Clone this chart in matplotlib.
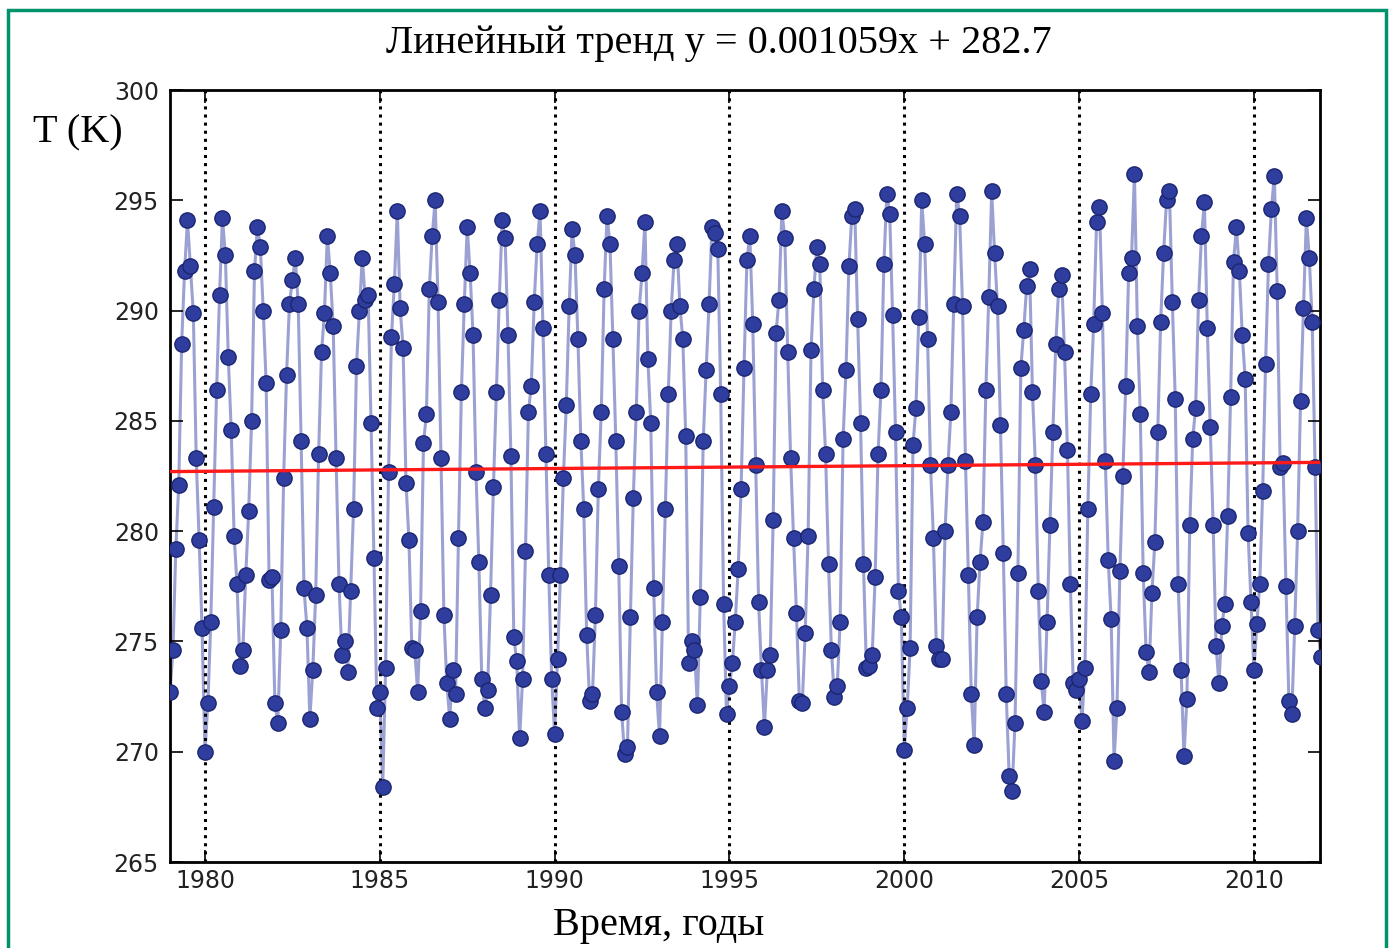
import numpy as np
import matplotlib
matplotlib.use("Agg")
from matplotlib import pyplot as plt
from matplotlib.patches import Rectangle

# monthly mean temperature, K (one row per year, Jan..Dec), starting 1979
start_year = 1979
temp_k = [
    272.7, 274.6, 279.2, 282.1, 288.5, 291.8, 294.1, 292.0, 289.9, 283.3, 279.6, 275.6,  # 1979
    270.0, 272.2, 275.9, 281.1, 286.4, 290.7, 294.2, 292.5, 287.9, 284.6, 279.8, 277.6,  # 1980
    273.9, 274.6, 278.0, 280.9, 285.0, 291.8, 293.8, 292.9, 290.0, 286.7, 277.8, 277.9,  # 1981
    272.2, 271.3, 275.5, 282.4, 287.1, 290.3, 291.4, 292.4, 290.3, 284.1, 277.4, 275.6,  # 1982
    271.5, 273.7, 277.1, 283.5, 288.1, 289.9, 293.4, 291.7, 289.3, 283.3, 277.6, 274.4,  # 1983
    275.0, 273.6, 277.3, 281.0, 287.5, 290.0, 292.4, 290.5, 290.7, 284.9, 278.8, 272.0,  # 1984
    272.7, 268.4, 273.8, 282.7, 288.8, 291.2, 294.5, 290.1, 288.3, 282.2, 279.6, 274.7,  # 1985
    274.6, 272.7, 276.4, 284.0, 285.3, 291.0, 293.4, 295.0, 290.4, 283.3, 276.2, 273.1,  # 1986
    271.5, 273.7, 272.6, 279.7, 286.3, 290.3, 293.8, 291.7, 288.9, 282.7, 278.6, 273.3,  # 1987
    272.0, 272.8, 277.1, 282.0, 286.3, 290.5, 294.1, 293.3, 288.9, 283.4, 275.2, 274.1,  # 1988
    270.6, 273.3, 279.1, 285.4, 286.6, 290.4, 293.0, 294.5, 289.2, 283.5, 278.0, 273.3,  # 1989
    270.8, 274.2, 278.0, 282.4, 285.7, 290.2, 293.7, 292.5, 288.7, 284.1, 281.0, 275.3,  # 1990
    272.3, 272.6, 276.2, 281.9, 285.4, 291.0, 294.3, 293.0, 288.7, 284.1, 278.4, 271.8,  # 1991
    269.9, 270.2, 276.1, 281.5, 285.4, 290.0, 291.7, 294.0, 287.8, 284.9, 277.4, 272.7,  # 1992
    270.7, 275.9, 281.0, 286.2, 290.0, 292.3, 293.0, 290.2, 288.7, 284.3, 274.0, 275.0,  # 1993
    274.6, 272.1, 277.0, 284.1, 287.3, 290.3, 293.8, 293.5, 292.8, 286.2, 276.7, 271.7,  # 1994
    273.0, 274.0, 275.9, 278.3, 281.9, 287.4, 292.3, 293.4, 289.4, 283.0, 276.8, 273.7,  # 1995
    271.1, 273.7, 274.4, 280.5, 289.0, 290.5, 294.5, 293.3, 288.1, 283.3, 279.7, 276.3,  # 1996
    272.3, 272.2, 275.4, 279.8, 288.2, 291.0, 292.9, 292.1, 286.4, 283.5, 278.5, 274.6,  # 1997
    272.5, 273.0, 275.9, 284.2, 287.3, 292.0, 294.3, 294.6, 289.6, 284.9, 278.5, 273.8,  # 1998
    273.9, 274.4, 277.9, 283.5, 286.4, 292.1, 295.3, 294.4, 289.8, 284.5, 277.3, 276.1,  # 1999
    270.1, 272.0, 274.7, 283.9, 285.6, 289.7, 295.0, 293.0, 288.7, 283.0, 279.7, 274.8,  # 2000
    274.2, 274.2, 280.0, 283.0, 285.4, 290.3, 295.3, 294.3, 290.2, 283.2, 278.0, 272.6,  # 2001
    270.3, 276.1, 278.6, 280.4, 286.4, 290.6, 295.4, 292.6, 290.2, 284.8, 279.0, 272.6,  # 2002
    268.9, 268.2, 271.3, 278.1, 287.4, 289.1, 291.1, 291.9, 286.3, 283.0, 277.3, 273.2,  # 2003
    271.8, 275.9, 280.3, 284.5, 288.5, 291.0, 291.6, 288.1, 283.7, 277.6, 273.1, 272.8,  # 2004
    273.3, 271.4, 273.8, 281.0, 286.2, 289.4, 294.0, 294.7, 289.9, 283.2, 278.7, 276.0,  # 2005
    269.6, 272.0, 278.2, 282.5, 286.6, 291.7, 292.4, 296.2, 289.3, 285.3, 278.1, 274.5,  # 2006
    273.6, 277.2, 279.5, 284.5, 289.5, 292.6, 295.0, 295.4, 290.4, 286.0, 277.6, 273.7,  # 2007
    269.8, 272.4, 280.3, 284.2, 285.6, 290.5, 293.4, 294.9, 289.2, 284.7, 280.3, 274.8,  # 2008
    273.1, 275.7, 276.7, 280.7, 286.1, 292.2, 293.8, 291.8, 288.9, 286.9, 279.9, 276.8,  # 2009
    273.7, 275.8, 277.6, 281.8, 287.6, 292.1, 294.6, 296.1, 290.9, 282.9, 283.1, 277.5,  # 2010
    272.3, 271.7, 275.7, 280.0, 285.9, 290.1, 294.2, 292.4, 289.5, 282.9, 275.5, 274.3,  # 2011
]

# linear fit over the month index
trend_slope = 0.001059
trend_intercept = 282.7

year_ticks = [1980, 1985, 1990, 1995, 2000, 2005, 2010]
temp_ticks = [265, 270, 275, 280, 285, 290, 295, 300]

serif = ["Liberation Serif", "DejaVu Serif"]

months = np.arange(len(temp_k))
t = start_year + months / 12.0
trend = trend_slope * months + trend_intercept

fig = plt.figure(figsize=(13.92, 9.48), dpi=100)
fig.patch.set_facecolor("white")

# green frame round the figure
fig.patches.append(Rectangle((8 / 1392, -0.05), 1378 / 1392, 1.05 - 10 / 948,
                             transform=fig.transFigure, fill=False,
                             edgecolor="#00936b", linewidth=2.5))

ax = fig.add_axes([170 / 1392, 86 / 948, 1150 / 1392, 772 / 948])

ax.plot(t, temp_k, "-", color="#3a45a8", alpha=0.5, linewidth=2.2, zorder=2)
ax.plot(t, temp_k, "o", markersize=11, markerfacecolor="#2f3e9e",
        markeredgecolor="#1b2570", markeredgewidth=1.0, zorder=3)
ax.plot(t, trend, "-", color="#ff1a1a", linewidth=2.4, zorder=4)

ax.set_xlim(1979.0, 2011.89)
ax.set_ylim(265, 300)
ax.set_xticks(year_ticks)
ax.set_yticks(temp_ticks)

ax.xaxis.grid(True, linestyle=":", color="black", linewidth=2.2)
ax.set_axisbelow(False)
ax.yaxis.grid(False)

ax.tick_params(direction="in", length=9, width=1.2, top=True, right=True,
               labelsize=17, labelcolor="#222222")
ax.tick_params(axis="y", pad=8)
ax.tick_params(axis="x", pad=5)
for lab in ax.get_xticklabels() + ax.get_yticklabels():
    lab.set_family("DejaVu Sans")

for sp in ax.spines.values():
    sp.set_linewidth(2.0)
    sp.set_color("black")

fig.text(719 / 1392, 1 - 43 / 948,
         f"Линейный тренд y = {trend_slope:.6f}x + {trend_intercept:.1f}",
         ha="center", va="center", fontsize=29, family=serif)
fig.text(33 / 1392, 1 - 133 / 948, "T (K)", ha="left", va="center",
         fontsize=29, family=serif)
fig.text(659 / 1392, 1 - 925 / 948, "Время, годы", ha="center", va="center",
         fontsize=29, family=serif)

fig.savefig("out.png", dpi=100)
